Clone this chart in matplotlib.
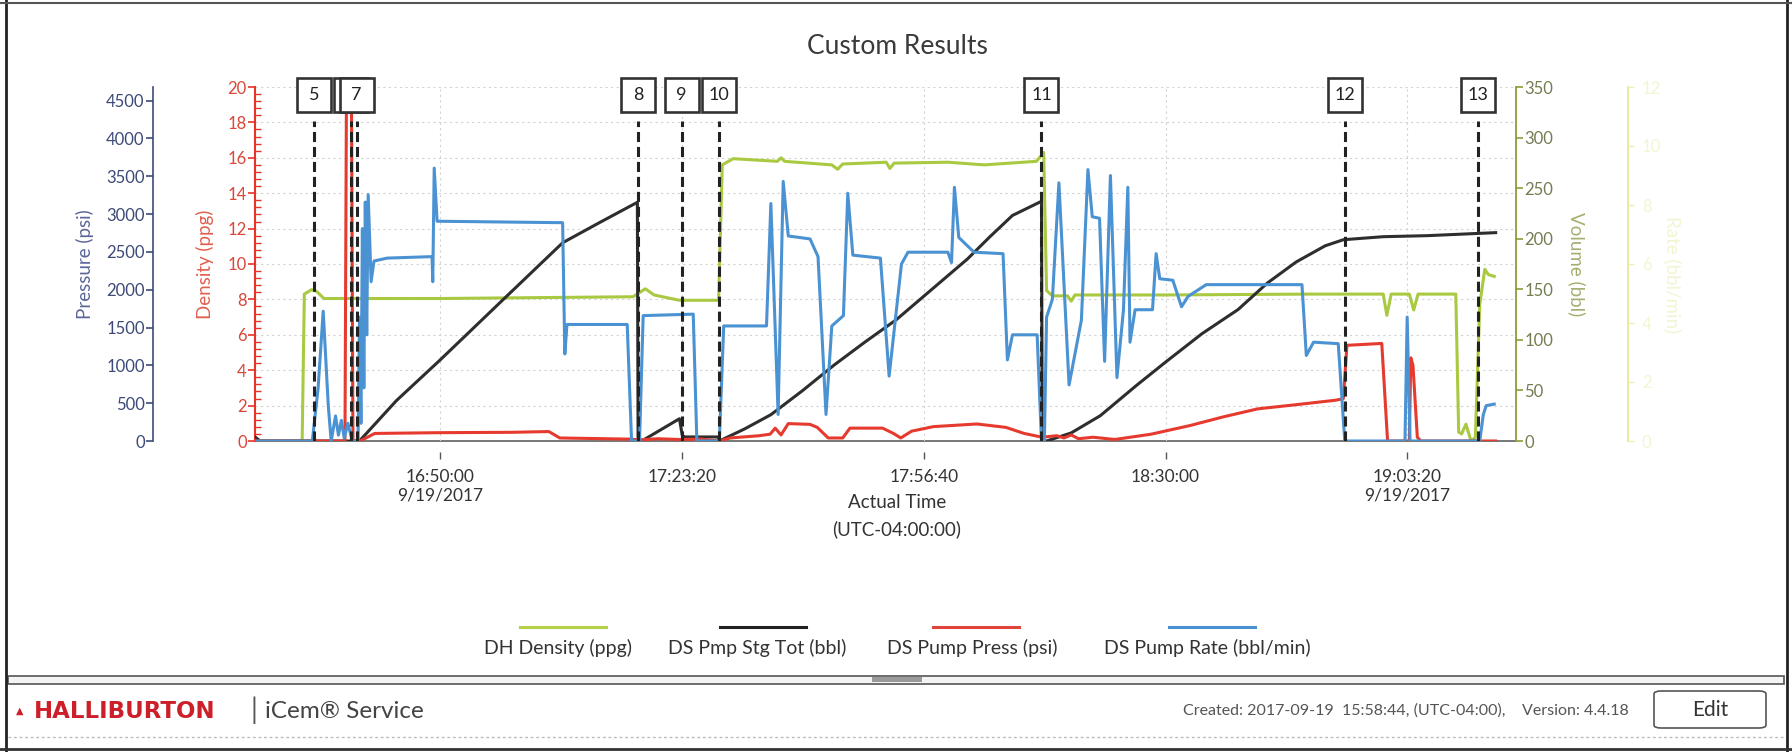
import matplotlib
matplotlib.use("Agg")
import matplotlib.pyplot as plt
import matplotlib.dates as mdates
import matplotlib.transforms as mtransforms
from matplotlib.lines import Line2D
from matplotlib.patches import Rectangle, FancyBboxPatch
from matplotlib.ticker import MultipleLocator
import numpy as np
import pandas as pd

plt.rcParams['font.family'] = ['Lato', 'DejaVu Sans']

t0 = pd.Timestamp('2017-09-19 16:00:00')

# ---- data, time in minutes after 16:00 on 9/19/2017 ----
# DH Density (ppg)
dens_t = [24.5, 31.0, 31.3, 32.3, 33.0, 34.0, 50.0, 76.6, 78.3, 79.5,
          83.0, 88.4, 88.9, 90.4, 96.5, 97.0, 97.5, 104.0, 104.8, 105.5,
          111.5, 112.0, 112.6, 120.0, 125.0, 132.2, 133.2, 133.6, 134.4, 136.5,
          137.0, 137.5, 150.0, 170.0, 180.0, 180.5, 181.1, 183.6, 184.2, 184.8,
          190.0, 190.4, 190.8, 191.4, 192.1, 192.7, 193.3, 194.0, 194.5, 195.3]
dens_v = [0.0, 0.0, 8.3, 8.55, 8.45, 8.05, 8.05, 8.15, 8.6, 8.25,
          7.95, 7.95, 15.6, 15.95, 15.8, 16.0, 15.8, 15.6, 15.35, 15.65,
          15.75, 15.4, 15.7, 15.75, 15.6, 15.8, 16.3, 8.5, 8.2, 8.2,
          7.9, 8.25, 8.25, 8.3, 8.3, 7.1, 8.3, 8.3, 7.4, 8.3,
          8.3, 0.5, 0.4, 0.95, 0.0, 0.2, 7.7, 9.7, 9.4, 9.3]

# DS Pmp Stg Tot (bbl)
stg_t = [24.5, 25.2, 38.9, 44.0, 50.0, 58.0, 66.9, 72.0, 77.2, 77.3,
         77.8, 83.0, 83.4, 83.8, 88.3, 88.5, 92.0, 95.6, 100.0, 104.3,
         108.6, 112.9, 117.8, 122.7, 125.8, 128.9, 132.9, 133.0, 133.6, 137.0,
         141.0, 146.0, 150.0, 155.0, 160.0, 164.0, 168.0, 172.0, 174.5, 180.0,
         186.0, 195.5]
stg_v = [4, 0, 0, 40, 80, 135, 196, 216, 236, 0,
         0, 22, 5, 4, 4, 0, 12, 26, 50, 75,
         98, 120, 150, 180, 202, 223, 237, 0, 0, 8,
         25, 55, 78, 106, 130, 156, 177, 193, 199, 202,
         203, 206]

# DS Pump Press (psi)
press_t = [24.5, 36.9, 37.1, 37.8, 38.0, 39.0, 41.0, 50.0, 60.0, 65.0,
           66.5, 76.0, 77.5, 80.0, 83.0, 86.0, 88.5, 90.0, 94.0, 95.5,
           96.2, 97.0, 98.0, 101.0, 102.0, 103.5, 105.5, 106.5, 111.0, 112.5,
           113.5, 115.0, 118.0, 124.0, 128.0, 130.5, 133.0, 135.0, 136.0, 137.0,
           138.0, 140.0, 143.0, 148.0, 153.4, 158.0, 162.7, 168.0, 173.5, 174.5,
           175.0, 179.8, 180.6, 183.6, 183.8, 184.1, 184.7, 185.2, 195.5]
press_v = [0, 0, 4500, 4500, 0, 0, 100, 110, 115, 125,
           40, 25, 15, 30, 20, 25, 0, 40, 70, 90,
           170, 80, 230, 220, 180, 40, 40, 170, 170, 100,
           40, 130, 190, 225, 180, 100, 50, 70, 40, 80,
           30, 50, 20, 90, 205, 320, 425, 480, 540, 560,
           1265, 1290, 0, 0, 1100, 1000, 50, 0, 0]

# DS Pump Rate (bbl/min)
rate_t = [24.5, 32.4, 33.2, 33.9, 34.6, 35.0, 35.6, 36.0, 36.4, 36.8,
          37.3, 37.9, 38.7, 38.9, 39.1, 39.3, 39.5, 39.7, 39.9, 40.1,
          40.5, 40.9, 42.7, 48.9, 49.0, 49.2, 49.6, 66.9, 67.2, 67.5,
          75.8, 76.4, 77.5, 78.0, 84.9, 85.4, 88.5, 89.1, 95.0, 95.6,
          96.6, 97.3, 98.0, 101.0, 102.1, 103.2, 104.0, 105.6, 106.2, 106.9,
          110.7, 111.9, 113.6, 114.5, 120.0, 120.5, 120.9, 121.5, 123.6, 127.6,
          128.2, 128.9, 132.3, 132.9, 133.3, 133.6, 134.4, 135.3, 136.7, 138.4,
          139.3, 139.9, 140.9, 141.6, 142.4, 143.3, 144.2, 144.8, 145.1, 145.8,
          148.2, 148.7, 149.2, 151.0, 152.2, 153.1, 155.6, 168.8, 169.4, 170.4,
          173.8, 174.7, 183.0, 183.3, 183.7, 193.3, 193.8, 194.2, 195.3]
rate_v = [0, 0, 1.8, 4.4, 1.2, 0, 0.85, 0.2, 0.7, 0.1,
          0.6, 0, 0, 4.2, 0.6, 7.2, 1.8, 8.1, 3.6, 8.35,
          5.4, 6.1, 6.2, 6.25, 5.4, 9.25, 7.45, 7.4, 2.95, 3.95,
          3.95, 0, 0, 4.25, 4.3, 0, 0, 3.9, 3.9, 8.05,
          0.9, 8.8, 6.95, 6.85, 6.25, 0.9, 3.9, 4.25, 8.4, 6.3,
          6.2, 2.2, 6.0, 6.4, 6.4, 6.05, 8.6, 6.9, 6.4, 6.35,
          2.75, 3.6, 3.6, 0, 0, 4.2, 4.8, 8.75, 1.9, 4.1,
          9.2, 7.6, 7.55, 2.7, 9.0, 2.15, 4.45, 8.6, 3.35, 4.45,
          4.45, 6.35, 5.5, 5.45, 4.55, 4.9, 5.3, 5.3, 2.9, 3.35,
          3.3, 0, 0, 4.2, 0, 0, 0.9, 1.2, 1.25]

# event markers (6 sits under 7, its number is hidden)
event_names = ['5', '6', '7', '8', '9', '10', '11', '12', '13']
event_t = [32.7, 37.8, 38.5, 77.3, 83.3, 88.5, 132.9, 174.7, 193.0]
hidden_events = ['6']

tick_times = ['16:50:00', '17:23:20', '17:56:40', '18:30:00', '19:03:20']
tick_date = '9/19/2017'

legend_names = ['DH Density (ppg)', 'DS Pmp Stg Tot (bbl)', 'DS Pump Press (psi)', 'DS Pump Rate (bbl/min)']

C_DENS, C_STG, C_PRESS, C_RATE = '#a9c940', '#2e2e2e', '#e63a2e', '#4a92d2'


def when(mins):
    return t0 + pd.to_timedelta(np.asarray(mins, dtype=float), unit='m')


W, H = 1792, 752
def fx(x): return x / W
def fy(y): return 1 - y / H

fig = plt.figure(figsize=(W / 100, H / 100), dpi=100)
L, R, T, B = 255, 1516, 87, 441
ax_d = fig.add_axes([fx(L), fy(B), fx(R) - fx(L), fy(T) - fy(B)])
ax_v = ax_d.twinx()
ax_p = ax_d.twinx()
ax_r = ax_d.twinx()
for a in (ax_d, ax_v, ax_p, ax_r):
    for s in a.spines.values():
        s.set_visible(False)

lw = 2.2
ax_d.plot(when(dens_t), dens_v, color=C_DENS, lw=lw)
ax_v.plot(when(stg_t), stg_v, color=C_STG, lw=lw)
ax_p.plot(when(press_t), press_v, color=C_PRESS, lw=lw)
ax_r.plot(when(rate_t), rate_v, color=C_RATE, lw=lw)

ax_d.set_xlim(when([24.5])[0], when([198.3])[0])

# density axis (host, left)
ax_d.set_ylim(0, 20)
ax_d.yaxis.set_major_locator(MultipleLocator(2))
ax_d.yaxis.set_minor_locator(MultipleLocator(0.4))
ax_d.spines['left'].set_visible(True)
ax_d.spines['left'].set_color('#e5352b')
ax_d.spines['left'].set_linewidth(1.5)
ax_d.tick_params(axis='y', which='major', colors='#e5352b', labelcolor='#d9473a',
                 length=5, width=1.2, labelsize=12, pad=1)
ax_d.tick_params(axis='y', which='minor', colors='#e5352b', direction='in', length=4, width=1)
ax_d.text(-0.0397, 0.5, 'Density (ppg)', rotation=90, transform=ax_d.transAxes,
          ha='center', va='center', fontsize=13.5, color='#e0604f')
ax_d.grid(True, which='major', color='#d2d2d2', ls=(0, (2, 3)), lw=0.8)

# pressure axis (outer left)
ax_p.set_ylim(0, 4680)
ax_p.yaxis.set_major_locator(MultipleLocator(500))
ax_p.yaxis.set_ticks_position('left')
ax_p.spines['left'].set_visible(True)
ax_p.spines['left'].set_position(('axes', (153 - L) / (R - L)))
ax_p.spines['left'].set_color('#3d4a78')
ax_p.spines['left'].set_linewidth(1.2)
ax_p.tick_params(axis='y', colors='#3d4a78', length=5, width=1.2, labelsize=12, pad=1)
ax_p.text((85 - L) / (R - L), 0.5, 'Pressure (psi)', rotation=90, transform=ax_p.transAxes,
          ha='center', va='center', fontsize=13.5, color='#5a6699')

# volume axis (right)
ax_v.set_ylim(0, 350)
ax_v.yaxis.set_major_locator(MultipleLocator(50))
ax_v.spines['right'].set_visible(True)
ax_v.spines['right'].set_color('#8a9d3a')
ax_v.spines['right'].set_linewidth(1.3)
ax_v.tick_params(axis='y', colors='#8a9d3a', labelcolor='#737d52', length=5, width=1.2,
                 labelsize=12, pad=1)
ax_v.text((1577 - L) / (R - L), 0.5, 'Volume (bbl)', rotation=270, transform=ax_v.transAxes,
          ha='center', va='center', fontsize=13.5, color='#a3b070')

# rate axis (outer right, very faint)
ax_r.set_ylim(0, 12)
ax_r.yaxis.set_major_locator(MultipleLocator(2))
ax_r.spines['right'].set_visible(True)
ax_r.spines['right'].set_position(('axes', (1628 - L) / (R - L)))
ax_r.spines['right'].set_color('#e6eb9a')
ax_r.spines['right'].set_linewidth(1.3)
ax_r.tick_params(axis='y', colors='#eef0b5', labelcolor='#f3f5d2', length=4, width=1,
                 labelsize=12, pad=6)
ax_r.text((1673 - L) / (R - L), 0.47, 'Rate (bbl/min)', rotation=270, transform=ax_r.transAxes,
          ha='center', va='center', fontsize=13.5, color='#f3f5d2')

# time axis
tick_pos = pd.to_datetime(['2017-09-19 ' + s for s in tick_times])
tick_labels = list(tick_times)
tick_labels[0] += '\n' + tick_date
tick_labels[-1] += '\n' + tick_date
ax_d.set_xticks(tick_pos)
ax_d.set_xticklabels(tick_labels, linespacing=1.8)
ax_d.spines['bottom'].set_visible(True)
ax_d.spines['bottom'].set_position(('outward', 8))
ax_d.spines['bottom'].set_color('none')
ax_d.tick_params(axis='x', direction='out', length=5, width=1, color='#555555',
                 labelcolor='#333333', labelsize=12.5, pad=7)
ax_d.axhline(0, color='#6b6b6b', lw=1.3, clip_on=False, zorder=1)

# event markers: dashed lines with numbered boxes
box_w = 34 / ((R - L) / (198.3 - 24.5)) / 1440.0
trans = mtransforms.blended_transform_factory(ax_r.transData, ax_r.transAxes)
for i, (name, t) in enumerate(zip(event_names, event_t)):
    xd = mdates.date2num(when([t])[0])
    ax_r.axvline(xd, ymin=0, ymax=0.905, color='#222222', lw=2.2, dashes=(3.3, 1.6), zorder=10)
    ax_r.add_patch(Rectangle((xd - box_w / 2, 0.929), box_w, 0.096, transform=trans,
                             facecolor='white', edgecolor='#333333', lw=1.9,
                             clip_on=False, zorder=11 + 2 * i))
    if name not in hidden_events:
        ax_r.text(xd, 0.977, name, transform=trans, ha='center', va='center',
                  fontsize=13, color='#222222', zorder=12 + 2 * i, clip_on=False)

# title and x label
fig.text(fx(897), fy(46), 'Custom Results', ha='center', va='center', fontsize=19, color='#3a3a3a')
fig.text(fx(897), fy(503), 'Actual Time', ha='center', va='center', fontsize=13.5, color='#333333')
fig.text(fx(897), fy(529), '(UTC-04:00:00)', ha='center', va='center', fontsize=13.5, color='#333333')

# legend drawn below the chart
leg_colors = ['#b5d14a', '#222222', '#e0443a', '#4a8fd0']
leg_line_c = [563, 763, 976, 1212]
leg_text_c = [558, 757, 972, 1207]
for name, c, lc, tc in zip(legend_names, leg_colors, leg_line_c, leg_text_c):
    fig.add_artist(Line2D([fx(lc - 43), fx(lc + 43)], [fy(627), fy(627)], color=c, lw=2.2))
    fig.text(fx(tc), fy(648), name, ha='center', va='center', fontsize=14, color='#333333')

# page frame and footer
fig.add_artist(Line2D([fx(6), fx(6)], [0, 1], color='#222222', lw=2))
fig.add_artist(Line2D([fx(1787), fx(1787)], [0, 1], color='#222222', lw=2))
fig.add_artist(Line2D([0, 1], [fy(3), fy(3)], color='#555555', lw=1.5))
fig.add_artist(Rectangle((fx(8), fy(684)), fx(1776), 8 / H, transform=fig.transFigure,
                         facecolor='#f4f4f4', edgecolor='#555555', lw=1.2))
fig.add_artist(Rectangle((fx(872), fy(682)), fx(50), 5 / H, transform=fig.transFigure,
                         facecolor='#9a9a9a', edgecolor='none'))
fig.add_artist(Line2D([fx(8), fx(1784)], [fy(737), fy(737)], color='#bbbbbb', lw=1, ls=(0, (2, 2))))
fig.add_artist(Line2D([0, 1], [fy(749), fy(749)], color='#333333', lw=2))

fig.text(fx(20), fy(711), '\u25b2', ha='center', va='center', fontsize=7, color='#cc1f2a',
         family='DejaVu Sans')
fig.text(fx(34), fy(711), 'HALLIBURTON', ha='left', va='center', fontsize=16.5,
         weight='bold', color='#cc1f2a', family='DejaVu Sans')
fig.text(fx(254), fy(710), '|', ha='center', va='center', fontsize=20, color='#555555')
fig.text(fx(265), fy(711), 'iCem\u00ae Service', ha='left', va='center', fontsize=17.5, color='#444444')
fig.text(fx(1629), fy(711), 'Created: 2017-09-19  15:58:44, (UTC-04:00),    Version: 4.4.18',
         ha='right', va='center', fontsize=11.5, color='#555555')
fig.add_artist(FancyBboxPatch((fx(1654), fy(728)), fx(112), 37 / H,
                              boxstyle='round,pad=0,rounding_size=0.004',
                              transform=fig.transFigure, facecolor='white',
                              edgecolor='#555555', lw=1.2))
fig.text(fx(1710), fy(710), 'Edit', ha='center', va='center', fontsize=15, color='#333333')

fig.savefig('out.png', dpi=100)
